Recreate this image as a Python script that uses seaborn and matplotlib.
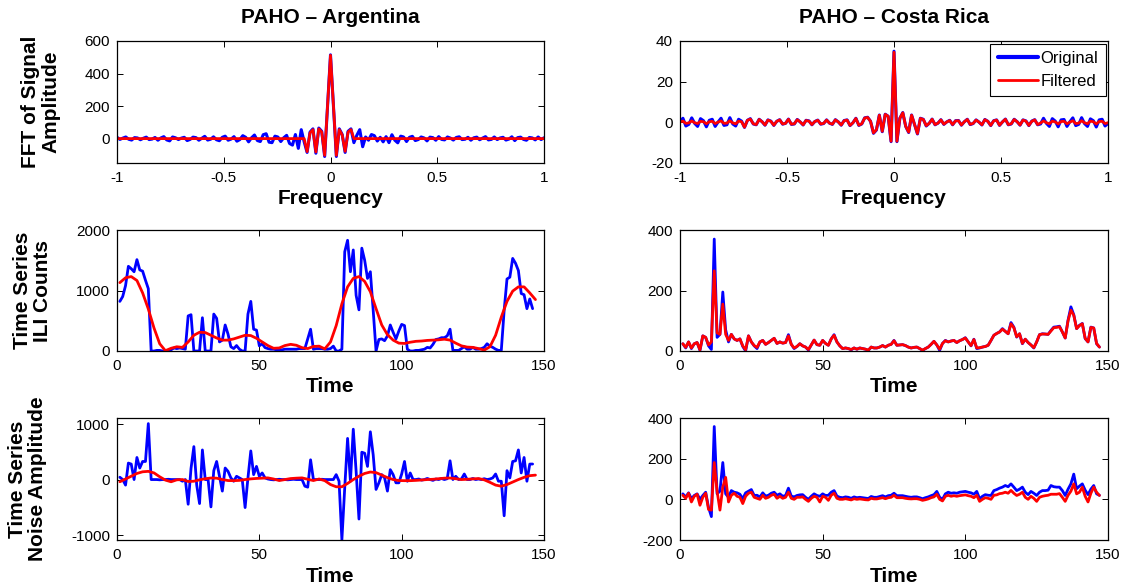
import numpy as np
import pandas as pd
import matplotlib
matplotlib.use("Agg")
import matplotlib.pyplot as plt
import seaborn as sns

# ---------------- data ----------------
# frequency axis for the FFT panels (147 samples from -1 to 1)
freq = np.linspace(-1, 1, 147)

arg_fft_orig = [
    8, -5, 3, 10, -4, -9, 6, 4, -7, 2,
    9, -6, -3, 7, -10, 4, 12, -8, -14, 10,
    5, -6, 3, 8, -12, -5, 9, 6, -10, 2,
    14, -9, -4, 11, -7, -13, 8, 15, -10, -3,
    12, -16, -6, 18, 8, -20, 5, 22, -12, -18,
    24,
    30, -22, -25, 15, 10, -18, 5, 20, -30, -40, 25, -60, 55, -20,
    -85, 40, 60, -90, 65, 45, -110, 200, 515, 200, -110, 60, 25, -85, 45, 60, -25,
    20, 55, -50, 10, -10, 25, 18, -15, 8, -20, 12, -25, 24, -10,
    -26, 15, 10, -18, 8, 14, -12, -6, 10, 4,
    -14, 9, 6, -10, 12, -5, -8, 10, 3, -9,
    7, 11, -6, -4, 8, -10, 5, 9, -7, 3,
    12, -8, -5, 10, -6, 4, 8, -9, -3, 11,
    -12, 6, 9, -5, -10, 7, 4, -8, 10, -6,
    5,
]
arg_fft_filt = ([0.0] * 65 +
                [-80, 35, 55, -82, 60, 40, -103, 200, 512, 200, -103, 55, 22, -78, 40, 55, 0] +
                [0.0] * 65)

cr_fft_orig = [
    0.5, 2.0, -1.8, -1.0, 2.2, -0.5, -2.0, 1.8, 0.8, -2.2, 1.0, 1.5, -2.0, 0.2, 2.0, -1.5,
    -1.2, 2.3, -0.8, -1.8, 1.5, 0.6, -2.5, 1.0,
    1.8, -0.8, -1.2, 1.5, 0.3, -1.4, 1.2, 0.6, -1.5, 0.5, 1.3, -0.9, -0.5, 1.6, -1.0, -0.8,
    1.4, 0.2, -1.3, 1.0, 0.7, -1.2, 0.4, 1.1, -0.9, -0.6, 1.2, -0.4, -1.0, 1.3, 0.2, -1.4,
    0.9, 1.2, -1.6, -0.2, 2.0, -1.5, -0.8, 2.2,
    2.5, 0.5, -5.4, -3.8, 3.6, -4.6, 4.0, 3.0, -9.5, 35.0, -9.5, 2.0, 4.8, -2.0, -5.0, 3.6,
    -1.0, -5.7, 2.0,
    1.5, -1.8, -0.5, 1.6, -1.2, -0.4, 1.3, -1.0, 0.2, 1.0, -1.2, 0.8, 0.9, -1.4, 0.3, 1.5,
    -1.1, -0.6, 1.2, 0.1, -1.3, 1.4, 0.5, -1.6, 0.8, 1.2, -1.5, 0.2, 1.6, -1.2, -0.8, 1.5,
    0.3, -1.4, 1.2, 0.7, -1.6, 0.6, 1.3, -1.2,
    -0.8, 2.0, -0.5, -2.0, 1.8, 0.6, -2.2, 1.2, 1.4, -2.0, 0.3, 2.2, -1.6, -1.0, 2.3, -0.6,
    -2.0, 1.7, 0.8, -2.3, 1.2, 1.5, -1.8, -0.5,
]
cr_fft_filt = [
    0.2, 0.6, -0.5, -0.3, 0.7, -0.2, -0.6, 0.5, 0.3, -0.7, 0.3, 0.5, -0.6, 0.1, 0.7, -0.5,
    -0.4, 0.8, -0.3, -0.7, 0.6, 0.3, -2.4, 1.0,
    1.6, -0.7, -1.1, 1.4, 0.3, -1.3, 1.1, 0.5, -1.4, 0.5, 1.2, -0.8, -0.5, 1.5, -0.9, -0.7,
    1.3, 0.2, -1.2, 0.9, 0.6, -1.1, 0.4, 1.0, -0.8, -0.5, 1.1, -0.4, -0.9, 1.2, 0.2, -1.3,
    0.8, 1.1, -1.5, -0.2, 1.9, -1.4, -0.7, 2.1,
    2.4, 0.5, -5.2, -3.6, 3.5, -4.4, 3.9, 3.0, -9.3, 34.5, -9.3, 2.0, 4.7, -2.0, -4.8, 3.5,
    -1.0, -5.5, 1.9,
    1.4, -1.6, -0.5, 1.5, -1.1, -0.4, 1.2, -0.9, 0.2, 0.9, -1.1, 0.7, 0.8, -1.3, 0.3, 1.4,
    -1.0, -0.5, 1.1, 0.1, -1.2, 1.3, 0.5, -1.5, 0.7, 1.1, -1.4, 0.2, 1.5, -1.1, -0.7, 1.4,
    0.3, -1.3, 1.1, 0.6, -1.5, 0.5, 1.2, -1.1,
    -0.3, 0.7, -0.2, -0.7, 0.6, 0.2, -0.8, 0.4, 0.5, -0.7, 0.1, 0.8, -0.6, -0.4, 0.8, -0.2,
    -0.7, 0.6, 0.3, -0.8, 0.4, 0.5, -0.6, -0.2,
]

# Argentina ILI counts (weeks 1..146)
arg_ili_orig = [
    820, 900, 1080, 1400, 1360, 1310, 1510, 1340, 1320, 1170,
    1030, 0, 0, 10, 10, 0, 0, 10, 20, 50,
    40, 50, 40, 30, 580, 600, 0, 0, 0, 550,
    0, 0, 0, 610, 540, 150, 180, 430, 280, 70,
    40, 90, 30, 0, 0, 610, 820, 360, 345, 85,
    120, 56, 40, 30, 30, 20, 20, 20, 30, 30,
    30, 30, 30, 40, 40, 40, 200, 360, 30, 40,
    40, 40, 30, 30, 40, 80, 0, 0, 30, 1640,
    1830, 1310, 1670, 920, 680, 1700, 1500, 1200, 1310, 670,
    0, 190, 200, 170, 250, 430, 310, 200, 330, 440,
    420, 30, 0, 0, 10, 10, 20, 30, 60, 50,
    110, 190, 200, 220, 220, 250, 360, 10, 10, 10,
    40, 70, 30, 30, 60, 30, 30, 40, 60, 120,
    80, 60, 30, 10, 10, 670, 1190, 1220, 1530, 1450,
    1330, 950, 930, 700, 860, 700,
]
# filtered Argentina series, read at odd weeks 1, 3, ..., 147
arg_ili_filt = [
    1130, 1210, 1230, 1165, 960, 695, 380, 120, 5, 45,
    70, 60, 150, 260, 310, 305, 260, 215, 180, 180,
    200, 230, 260, 255, 210, 150, 90, 45, 50, 90,
    110, 95, 55, 40, 75, 80, 35, 150, 420, 780,
    1060, 1200, 1230, 1150, 980, 700, 430, 270, 180, 130,
    125, 145, 160, 165, 175, 180, 185, 195, 180, 130,
    85, 65, 60, 40, 15, 70, 260, 560, 820, 990,
    1060, 1060, 960, 850,
]

arg_noise_orig = [
    42, 0, -100, 297, 279, 0, 398, 208, 326, 326,
    1009, 0, 0, 0, -5, 0, 0, 5, 0, 0,
    0, 0, -30, 0, -445, 200, 594, -100, -433, 534,
    0, 0, -493, 160, 326, 60, -208, 208, 148, 30,
    -30, 59, 30, 0, -505, 30, 516, 89, 237, 59,
    119, 30, 10, 0, -5, 0, 5, 0, 0, -5,
    0, 5, 0, 0, 0, -119, -137, 356, 0, 0,
    0, 5, 0, 0, 0, 0, 89, -30, -1086, -148,
    742, -30, 908, 148, -712, 493, 475, 237, 861, 445,
    -178, -59, 89, 30, -208, 178, 89, -59, -59, 100,
    326, -30, 119, 0, 0, 10, -10, 0, 20, 0,
    -15, 10, 0, 20, 0, 15, 338, 0, 59, 0,
    10, 100, 0, 0, 20, 0, 10, 0, 15, 0,
    10, 30, 100, -30, -30, -653, 160, 30, 326, 338,
    534, 119, 398, -30, 279, 280,
]
arg_noise_filt = [
    -40, 10, 60, 110, 140, 148, 120, 50, -10, -40,
    -5, 0, -35, -30, -5, 15, 28, 25, 0, -18,
    -20, -15, 0, 12, 20, 25, 30, 10, -18, 0,
    18, 25, 30, 5, -18, 10, -20, -90, -130, -130,
    -70, 0, 60, 110, 136, 125, 80, 35, 0, -18,
    -20, -20, -15, -8, 0, 5, 15, 25, 28, 15,
    0, 5, 12, 18, -5, -50, -100, -120, -90, -45,
    0, 40, 70, 80,
]

# Costa Rica ILI counts (weeks 1..147)
cr_ili_orig = [
    24, 10, 30, 8, 24, 28, 2, 50, 45, 17,
    5, 370, 45, 55, 195, 70, 30, 55, 40, 35,
    40, 15, 0, 50, 30, 17, 8, 30, 35, 22,
    28, 35, 42, 25, 30, 26, 28, 54, 22, 8,
    15, 24, 17, 13, 3, 20, 36, 21, 19, 35,
    25, 19, 40, 54, 30, 17, 8, 10, 8, 4,
    10, 6, 10, 8, 6, 2, 13, 10, 10, 13,
    18, 13, 19, 22, 35, 19, 20, 21, 18, 13,
    10, 12, 13, 8, 2, 8, 13, 22, 32, 20,
    2, 25, 35, 30, 33, 35, 28, 34, 38, 44,
    30, 17, 39, 8, 10, 13, 15, 19, 35, 52,
    58, 63, 74, 65, 57, 94, 79, 46, 57, 24,
    39, 28, 20, 10, 30, 54, 57, 56, 55, 68,
    79, 80, 82, 63, 43, 102, 146, 120, 74, 85,
    91, 41, 30, 79, 76, 24, 13,
]
cr_ili_filt = [
    24, 12, 30, 10, 24, 28, 4, 50, 45, 20,
    30, 265, 60, 55, 155, 55, 35, 55, 40, 35,
    40, 17, 4, 50, 30, 18, 12, 30, 35, 22,
    28, 35, 42, 25, 30, 26, 28, 50, 22, 10,
    15, 24, 17, 13, 5, 20, 36, 21, 19, 35,
    25, 19, 40, 52, 30, 17, 8, 10, 8, 5,
    10, 6, 10, 8, 6, 3, 13, 10, 10, 13,
    18, 13, 19, 22, 34, 19, 20, 21, 18, 13,
    10, 12, 13, 8, 3, 8, 13, 22, 32, 20,
    6, 25, 34, 30, 33, 35, 28, 34, 38, 43,
    30, 18, 38, 10, 11, 13, 15, 19, 35, 52,
    58, 63, 72, 65, 57, 90, 77, 47, 57, 25,
    39, 28, 20, 11, 30, 54, 56, 56, 55, 66,
    77, 78, 80, 63, 43, 100, 135, 118, 74, 84,
    90, 42, 30, 78, 76, 25, 13,
]

cr_noise_orig = [
    27, 11, 32, 3, 19, 27, 0, 19, 35, -40,
    -85, 358, 27, 40, 181, 27, 10, 43, 35, 32,
    25, 3, 32, 40, 48, 19, 20, 11, 32, 16,
    20, 30, 35, 20, 27, 15, 19, 55, 16, 12,
    19, 22, 23, 10, 0, 15, 27, 19, 15, 27,
    19, 20, 35, 43, 16, 10, 8, 12, 10, 5,
    12, 8, 10, 8, 6, 4, 14, 10, 10, 14,
    18, 12, 18, 20, 30, 18, 18, 18, 15, 12,
    10, 12, 12, 8, 3, 8, 12, 18, 23, 39,
    10, 0, 27, 35, 30, 32, 30, 35, 37, 39,
    35, 32, 25, 39, 3, 15, 23, 20, 19, 43,
    48, 55, 60, 68, 62, 76, 60, 43, 50, 60,
    35, 23, 39, 30, 19, 35, 43, 43, 45, 68,
    62, 60, 60, 43, 19, 50, 76, 124, 52, 65,
    76, 45, 23, 50, 68, 27, 20,
]
cr_noise_filt = [
    20, 5, 30, -13, 15, 25, -29, 10, 30, -50,
    -53, 181, 40, -53, 60, 108, -13, 20, 30, 15,
    10, -21, 15, 30, 35, 10, 5, 0, 20, 5,
    10, 20, 25, 5, 15, 5, 10, 35, 5, 0,
    10, 10, 12, 0, -10, 5, 15, 10, -13, 15,
    10, -5, 20, 30, 5, 0, 0, 3, 0, -3,
    3, 0, 2, 0, -2, -3, 5, 2, 2, 5,
    8, 3, 8, 10, 20, 8, 8, 8, 5, 3,
    2, 3, 3, 0, -5, -2, 2, 8, 12, 25,
    0, -8, 15, 20, 15, 18, 15, 18, 20, 22,
    18, 15, 8, 20, -10, 0, 8, 5, 0, 20,
    22, 28, 30, 35, 30, 44, 30, 19, 25, 35,
    10, 0, 15, 5, -10, 10, 15, 18, 20, 25,
    25, 25, 28, 10, -10, 20, 40, 76, 27, 35,
    60, 15, -13, 30, 60, 35, 19,
]

titles = ["PAHO \u2013 Argentina", "PAHO \u2013 Costa Rica"]
row_ylabels = ["FFT of Signal\nAmplitude", "Time Series\nILI Counts", "Time Series\nNoise Amplitude"]
row_xlabels = ["Frequency", "Time", "Time"]
legend_labels = ["Original", "Filtered"]

for name, arr, n in [("arg_fft_orig", arg_fft_orig, 147), ("arg_fft_filt", arg_fft_filt, 147),
                     ("cr_fft_orig", cr_fft_orig, 147), ("cr_fft_filt", cr_fft_filt, 147),
                     ("arg_ili_orig", arg_ili_orig, 146), ("arg_ili_filt", arg_ili_filt, 74),
                     ("arg_noise_orig", arg_noise_orig, 146), ("arg_noise_filt", arg_noise_filt, 74),
                     ("cr_ili_orig", cr_ili_orig, 147), ("cr_ili_filt", cr_ili_filt, 147),
                     ("cr_noise_orig", cr_noise_orig, 147), ("cr_noise_filt", cr_noise_filt, 147)]:
    assert len(arr) == n, f"{name} has {len(arr)} values, expected {n}"

weeks_arg = np.arange(1, 147)
weeks_arg_filt = np.arange(1, 148, 2)
weeks_cr = np.arange(1, 148)

# ---------------- style ----------------
sns.set_style("ticks")
plt.rcParams['font.family'] = ['Liberation Sans', 'DejaVu Sans']
plt.rcParams.update({
    "xtick.direction": "in", "ytick.direction": "in",
    "xtick.top": True, "ytick.right": True,
    "xtick.major.size": 4, "ytick.major.size": 4,
    "xtick.major.width": 0.7, "ytick.major.width": 0.7,
    "axes.linewidth": 0.9, "axes.edgecolor": "black",
    "axes.unicode_minus": False,
    "xtick.labelsize": 11, "ytick.labelsize": 11,
    "xtick.color": "black", "ytick.color": "black",
    "xtick.labelcolor": "black", "ytick.labelcolor": "black",
    "text.color": "black", "axes.labelcolor": "black", "axes.titlecolor": "black",
})

BLUE = "#0000ff"
RED = "#ff0000"

fig = plt.figure(figsize=(11.27, 5.86), dpi=100)
W, H = 1127, 586
cols = [(117, 544), (680, 1108)]
rows = [(41, 163), (230, 351), (418, 540)]
axes = [[None, None] for _ in range(3)]
for r, (top, bot) in enumerate(rows):
    for c, (lft, rgt) in enumerate(cols):
        axes[r][c] = fig.add_axes([lft / W, 1 - bot / H, (rgt - lft) / W, (bot - top) / H])


def draw(ax, x1, y1, x2, y2, lw_b=2.0, lw_r=2.0, legend=False):
    sns.lineplot(x=x1, y=y1, ax=ax, color=BLUE, linewidth=lw_b, estimator=None, sort=False,
                 label=legend_labels[0] if legend else None, legend=False)
    sns.lineplot(x=x2, y=y2, ax=ax, color=RED, linewidth=lw_r, estimator=None, sort=False,
                 label=legend_labels[1] if legend else None, legend=False)


draw(axes[0][0], freq, arg_fft_orig, freq, arg_fft_filt, lw_b=2.2)
draw(axes[0][1], freq, cr_fft_orig, freq, cr_fft_filt, lw_b=2.2, legend=True)
draw(axes[1][0], weeks_arg, arg_ili_orig, weeks_arg_filt, arg_ili_filt)
draw(axes[1][1], weeks_cr, cr_ili_orig, weeks_cr, cr_ili_filt)
draw(axes[2][0], weeks_arg, arg_noise_orig, weeks_arg_filt, arg_noise_filt)
draw(axes[2][1], weeks_cr, cr_noise_orig, weeks_cr, cr_noise_filt)

# limits / ticks
for c in range(2):
    ax = axes[0][c]
    ax.set_xlim(-1, 1)
    ax.set_xticks([-1, -0.5, 0, 0.5, 1])
    ax.set_xticklabels(["-1", "-0.5", "0", "0.5", "1"])
    ax.set_title(titles[c], fontsize=15, fontweight="bold", pad=13, color="black")
for r in (1, 2):
    for c in range(2):
        ax = axes[r][c]
        ax.set_xlim(0, 150)
        ax.set_xticks([0, 50, 100, 150])

axes[0][0].set_ylim(-150, 600); axes[0][0].set_yticks([0, 200, 400, 600])
axes[0][1].set_ylim(-20, 40); axes[0][1].set_yticks([-20, 0, 20, 40])
axes[1][0].set_ylim(0, 2000); axes[1][0].set_yticks([0, 1000, 2000])
axes[1][1].set_ylim(0, 400); axes[1][1].set_yticks([0, 200, 400])
axes[2][0].set_ylim(-1090, 1110); axes[2][0].set_yticks([-1000, 0, 1000])
axes[2][1].set_ylim(-200, 400); axes[2][1].set_yticks([-200, 0, 200, 400])

for r in range(3):
    for c in range(2):
        ax = axes[r][c]
        ax.set_xlabel(row_xlabels[r], fontsize=15, fontweight="bold", labelpad=3, color="black")
        if c == 0:
            ax.set_ylabel(row_ylabels[r], fontsize=15, fontweight="bold", labelpad=17,
                          linespacing=1.1, color="black")
        else:
            ax.set_ylabel("")
        for s in ax.spines.values():
            s.set_visible(True)
            s.set_color("black")
        ax.tick_params(axis="x", which="major", pad=6, labelcolor="black")
        ax.tick_params(axis="y", which="major", pad=5, labelcolor="black")

leg = axes[0][1].legend(loc="upper right", fontsize=12, frameon=True, fancybox=False,
                        edgecolor="black", framealpha=1, borderpad=0.45, handlelength=2.4,
                        handletextpad=0.15, labelspacing=0.45, borderaxespad=0.15)
leg.get_frame().set_linewidth(0.8)
leg.get_lines()[0].set_linewidth(3)
for txt in leg.get_texts():
    txt.set_color("black")

fig.savefig("out.png", dpi=100, facecolor="white")
